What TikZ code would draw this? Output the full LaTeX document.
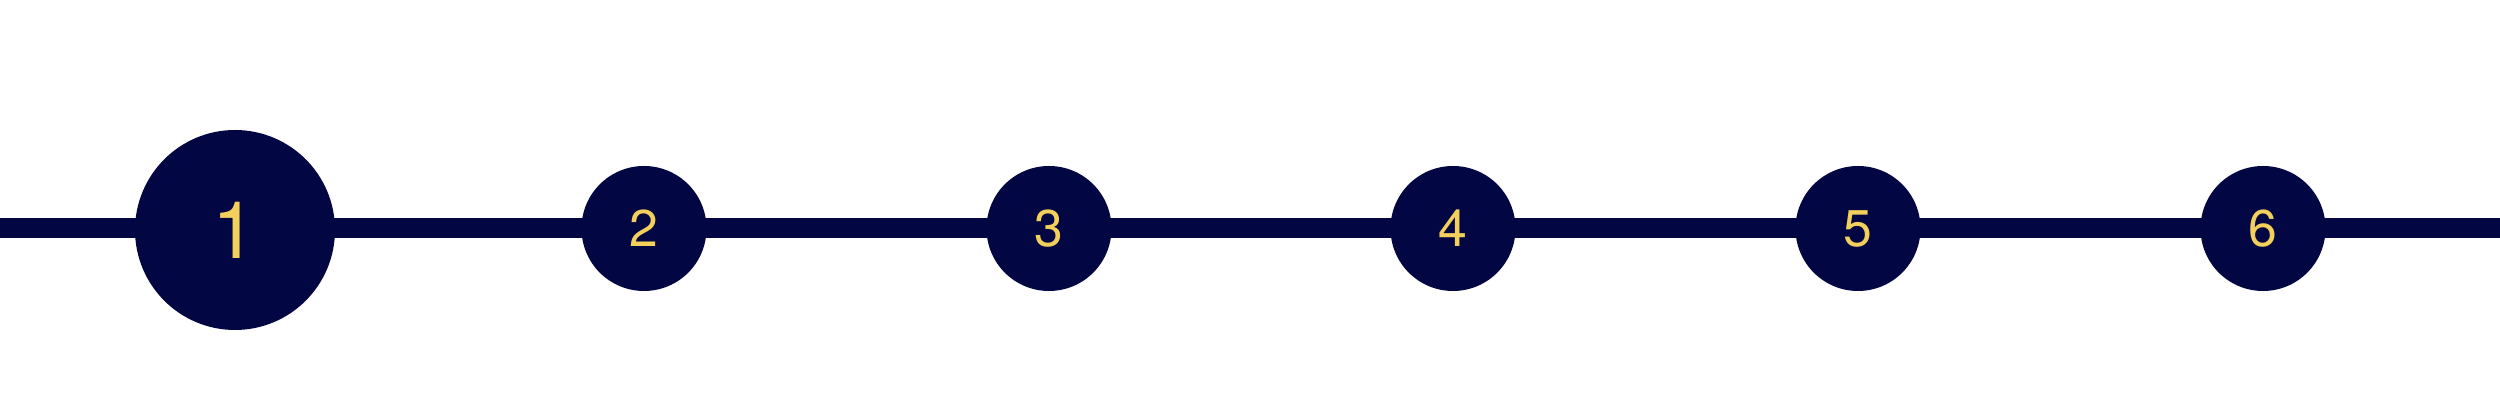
\documentclass[tikz,border=0pt]{standalone}
\usepackage{fontspec}
\setmainfont{TeX Gyre Heros}
\definecolor{navy}{HTML}{020642}
\definecolor{gold}{HTML}{F3D05C}
\begin{document}
\begin{tikzpicture}[
    big_step/.style={circle,fill=navy,minimum size=2.00cm,inner sep=0pt,text=gold,font=\fontsize{22.6}{24}\selectfont},
    small_step/.style={circle,fill=navy,minimum size=1.25cm,inner sep=0pt,text=gold,font=\fontsize{14.7}{16}\selectfont},
    track_line/.style={navy,line width=0.20cm}]
  \useasboundingbox (0,0) rectangle (25,4.19);
  \coordinate (track_start) at (0.00,1.91);
  \coordinate (track_end) at (25.00,1.91);
  \draw[track_line] (track_start) -- (track_end);
\node[big_step] (s1) at (2.35,1.89) {1};
\node[small_step] (s2) at (6.44,1.905) {2};
\node[small_step] (s3) at (10.49,1.905) {3};
\node[small_step] (s4) at (14.53,1.905) {4};
\node[small_step] (s5) at (18.58,1.905) {5};
\node[small_step] (s6) at (22.63,1.905) {6};
\end{tikzpicture}
\end{document}
